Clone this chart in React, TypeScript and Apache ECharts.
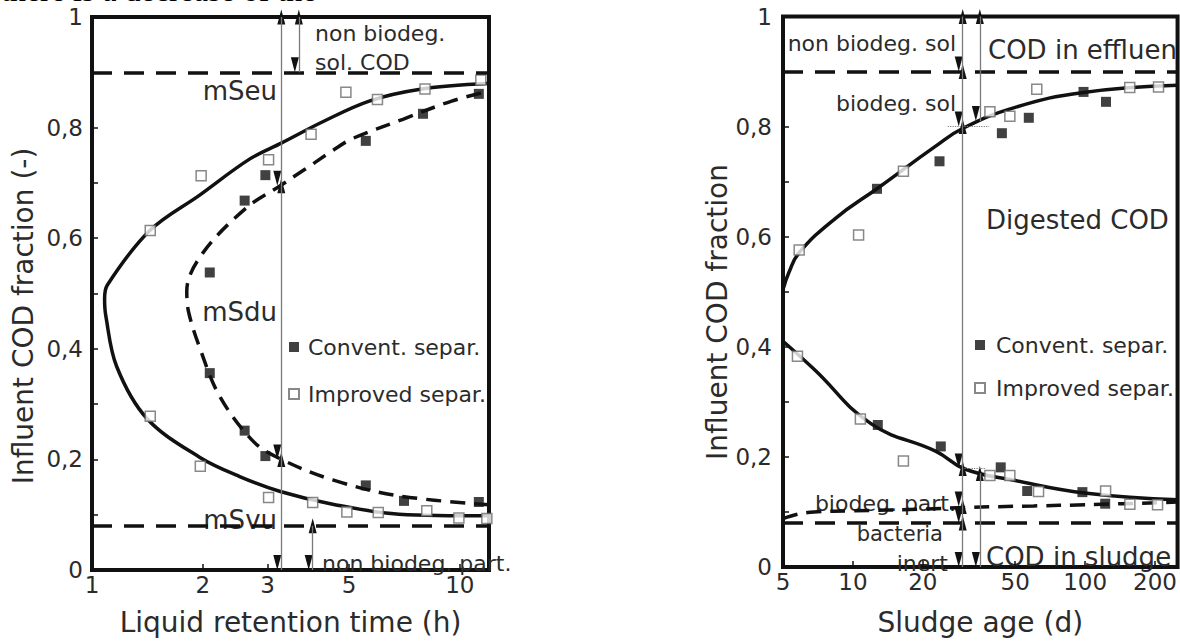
import React, { useEffect, useRef } from "react";
import * as echarts from "echarts";

const FONT = "DejaVu Sans";
const INK = "#111";
const TXT = "#2b2b2b";
const GREY_LINE = "#7a7a7a";

// ---------- Left panel: liquid retention time (h), log axis ----------
const lrtTicks = [1, 2, 3, 5, 10];
const lrtMin = 1;
const lrtMax = 12;

// solid model curve (C-shape, traced from lower right, round the nose, to upper right)
const leftSolidX = [12, 6.83, 4.51, 3.25, 2.52, 1.96, 1.41, 1.167, 1.09, 1.082, 1.1, 1.436, 1.962, 2.68, 3.27, 4.28, 5.67, 7.74, 12];
const leftSolidY = [0.098, 0.101, 0.119, 0.142, 0.169, 0.204, 0.274, 0.368, 0.46, 0.49, 0.515, 0.614, 0.678, 0.743, 0.772, 0.812, 0.848, 0.869, 0.88];

// dashed model curve (mSdu)
const leftDashX = [12, 6.83, 4.51, 3.25, 2.74, 2.22, 1.96, 1.83, 1.81, 2.0, 2.63, 3.25, 3.8, 4.5, 5.1, 7.0, 9.5, 12];
const leftDashY = [0.118, 0.134, 0.163, 0.201, 0.233, 0.315, 0.403, 0.467, 0.505, 0.573, 0.655, 0.695, 0.725, 0.758, 0.78, 0.815, 0.848, 0.866];

const leftConvX = [2.09, 2.6, 2.96, 5.55, 7.94, 11.26, 2.09, 2.6, 2.96, 5.55, 7.05, 11.26];
const leftConvY = [0.538, 0.668, 0.714, 0.776, 0.825, 0.861, 0.356, 0.252, 0.206, 0.153, 0.125, 0.123];
const leftImpX = [1.44, 1.98, 3.02, 3.94, 4.9, 5.97, 8.04, 11.4, 1.44, 1.97, 3.02, 3.98, 4.93, 6.0, 8.13, 9.94, 11.84];
const leftImpY = [0.614, 0.713, 0.742, 0.788, 0.864, 0.851, 0.87, 0.886, 0.278, 0.1875, 0.131, 0.122, 0.105, 0.104, 0.107, 0.094, 0.093];

const leftLevels = [0.9, 0.08]; // non biodeg. sol. / non biodeg. part.
const leftMainArrowX = 3.27;
const leftMainArrowStops = [1, 0.695, 0.2, 0];
const leftTopArrowX = 3.65;
const leftTopArrow = [1, 0.9];
const leftBottomArrowX = 3.98;
const leftBottomArrow = [0.08, 0];

// ---------- Right panel: sludge age (d), log axis ----------
const sludgeTicks = [5, 10, 20, 50, 100, 200];
const sludgeMin = 5;
const sludgeMax = 250;

const rightUpperX = [5, 5.3, 5.87, 8.39, 12.87, 22.8, 29.8, 50, 98.4, 250];
const rightUpperY = [0.504, 0.535, 0.571, 0.633, 0.689, 0.765, 0.797, 0.835, 0.862, 0.875];
const rightLowerX = [5, 6.77, 12, 22.8, 30.3, 50, 101.7, 250];
const rightLowerY = [0.41, 0.36, 0.26, 0.21, 0.178, 0.157, 0.134, 0.122];
const rightBactX = [5, 5.8, 6.8, 10, 20, 30, 60, 100, 250];
const rightBactY = [0.088, 0.096, 0.1, 0.102, 0.105, 0.108, 0.111, 0.113, 0.118];

const rightConvX = [12.7, 23.6, 43.8, 57.2, 98.4, 123, 12.8, 23.9, 43.3, 56.3, 97.3, 122];
const rightConvY = [0.687, 0.737, 0.788, 0.816, 0.863, 0.845, 0.258, 0.219, 0.181, 0.138, 0.136, 0.115];
const rightImpX = [5.87, 10.58, 16.5, 38.9, 47.4, 61.9, 155.6, 207, 5.77, 10.77, 16.5, 38.9, 47.4, 63, 122.5, 155.8, 205];
const rightImpY = [0.576, 0.603, 0.719, 0.827, 0.819, 0.868, 0.871, 0.872, 0.383, 0.269, 0.1925, 0.166, 0.166, 0.137, 0.138, 0.114, 0.113];

const rightLevels = [0.9, 0.08];
const rightArrowX1 = 29.7;
const rightArrowStops1 = [1, 0.9, 0.8, 0.179, 0.11, 0.08, 0];
const rightArrowX2 = 35.2;
const rightArrowSegs2 = [[1, 0.81], [0.17, 0]];
const rightDotted = [
  { x1: 25.6, x2: 38.6, y: 0.8 },
  { x1: 29.5, x2: 37.3, y: 0.179 },
];

const legendNames = ["Convent. separ.", "Improved separ."];

// ---------- helpers ----------
const L = (v: number) => Math.log10(v);
const pts = (xs: number[], ys: number[]) => xs.map((x, i) => [L(x), ys[i]]);

const fracFormatter = (v: number) => {
  const k = Math.round(v * 10);
  if (k % 2 !== 0) return "";
  if (k === 0) return "0";
  if (k === 10) return "1";
  return "0," + k;
};

const seg = (x: number, y1: number, y2: number) => [
  { coord: [L(x), y1] },
  { coord: [L(x), y2] },
];

const chain = (x: number, stops: number[]) => {
  const out: any[] = [];
  for (let i = 0; i < stops.length - 1; i++) out.push(seg(x, stops[i], stops[i + 1]));
  return out;
};

// black arrow heads only (line itself invisible)
const arrowHeads = (data: any[]) => ({
  silent: true,
  animation: false,
  symbol: ["triangle", "triangle"],
  symbolSize: [8, 15],
  symbolOffset: [0, "50%"],
  label: { show: false },
  emphasis: { disabled: true },
  lineStyle: { color: INK, width: 0, type: "solid" },
  data,
});

// thin grey guide lines
const guideLines = (data: any[], dotted: any[] = []) => ({
  silent: true,
  animation: false,
  symbol: ["none", "none"],
  label: { show: false },
  emphasis: { disabled: true },
  lineStyle: { color: GREY_LINE, width: 1.3, type: "solid" },
  data: [
    ...data,
    ...dotted.map((d) => [
      { coord: [L(d.x1), d.y], lineStyle: { type: "dotted", width: 1.2, color: GREY_LINE } },
      { coord: [L(d.x2), d.y] },
    ]),
  ],
});

const levelMarkLine = (levels: number[]) => ({
  silent: true,
  animation: false,
  symbol: ["none", "none"],
  label: { show: false },
  emphasis: { disabled: true },
  lineStyle: { color: INK, width: 3.5, type: [20, 12] },
  data: levels.map((v) => ({ yAxis: v })),
});

const txt = (text: string, x: number, y: number, size: number, align = "left") => ({
  type: "text",
  x,
  y,
  silent: true,
  style: {
    text,
    fontSize: size,
    fontFamily: FONT,
    fill: TXT,
    align,
    textAlign: align,
    verticalAlign: "middle",
    textVerticalAlign: "middle",
  },
});

const xAxisBase = (gridIndex: number, ticks: number[], min: number, max: number, name: string, nameGap: number) => ({
  type: "value",
  gridIndex,
  min: L(min),
  max: L(max),
  axisLine: { show: false },
  splitLine: { show: false },
  axisTick: {
    show: true,
    inside: true,
    length: 6,
    customValues: ticks.map(L),
    lineStyle: { color: INK, width: 1.5 },
  },
  axisLabel: {
    customValues: ticks.map(L),
    formatter: (v: number) => String(Math.round(Math.pow(10, v))),
    fontSize: 23,
    fontFamily: FONT,
    color: TXT,
    margin: 3,
  },
  name,
  nameLocation: "middle",
  nameGap,
  nameTextStyle: { fontSize: 28, fontFamily: FONT, color: TXT },
});

const yAxisBase = (gridIndex: number, margin: number) => ({
  type: "value",
  gridIndex,
  min: 0,
  max: 1,
  interval: 0.1,
  axisLine: { show: false },
  splitLine: { show: false },
  axisTick: { show: true, inside: true, length: 6, lineStyle: { color: INK, width: 1.5 } },
  axisLabel: { formatter: fracFormatter, fontSize: 23, fontFamily: FONT, color: TXT, margin },
});

const curve = (name: string, data: number[][], xi: number, dashed: boolean, extra: any = {}) => ({
  name,
  type: "line",
  xAxisIndex: xi,
  yAxisIndex: xi,
  data,
  showSymbol: false,
  symbol: "none",
  smooth: 0.35,
  silent: true,
  lineStyle: { color: INK, width: 3.5, type: dashed ? [15, 9] : "solid" },
  z: 3,
  ...extra,
});

const scat = (name: string, data: number[][], xi: number, filled: boolean, extra: any = {}) => ({
  name,
  type: "scatter",
  xAxisIndex: xi,
  yAxisIndex: xi,
  data,
  symbol: "rect",
  symbolSize: 10,
  silent: true,
  itemStyle: filled
    ? { color: INK }
    : { color: "#ffffff", borderColor: "#6a6a6a", borderWidth: 1.5 },
  z: 4,
  ...extra,
});

export default function App() {
  const ref = useRef<HTMLDivElement>(null);

  useEffect(() => {
    if (!ref.current) return;
    const chart = echarts.init(ref.current, undefined, { renderer: "svg" });

    const option: any = {
      animation: false,
      textStyle: { fontFamily: FONT },
      grid: [
        { left: 92, top: 17, width: 397, height: 570, show: true, borderColor: INK, borderWidth: 4, containLabel: false },
        { left: 783, top: 16.5, width: 395, height: 568, show: true, borderColor: INK, borderWidth: 4, containLabel: false },
      ],
      xAxis: [
        xAxisBase(0, lrtTicks, lrtMin, lrtMax, "Liquid retention time (h)", 38),
        xAxisBase(1, sludgeTicks, sludgeMin, sludgeMax, "Sludge age (d)", 41),
      ],
      yAxis: [yAxisBase(0, 9), yAxisBase(1, 11)],
      legend: [
        {
          data: legendNames,
          orient: "vertical",
          left: 288,
          top: 336,
          padding: 0,
          itemWidth: 10,
          itemHeight: 10,
          itemGap: 25,
          selectedMode: false,
          textStyle: { fontSize: 22, lineHeight: 22, fontFamily: FONT, color: TXT, padding: [0, 0, 0, 4] },
        },
        {
          data: legendNames,
          orient: "vertical",
          left: 974,
          top: 334,
          padding: 0,
          itemWidth: 10,
          itemHeight: 10,
          itemGap: 21,
          selectedMode: false,
          textStyle: { fontSize: 22, lineHeight: 22, fontFamily: FONT, color: TXT, padding: [0, 0, 0, 6] },
        },
      ],
      series: [
        // left panel
        curve("mS solid", pts(leftSolidX, leftSolidY), 0, false, {
          markLine: arrowHeads([
            ...chain(leftMainArrowX, leftMainArrowStops),
            seg(leftTopArrowX, leftTopArrow[0], leftTopArrow[1]),
            seg(leftBottomArrowX, leftBottomArrow[0], leftBottomArrow[1]),
          ]),
        }),
        curve("mSdu dashed", pts(leftDashX, leftDashY), 0, true, {
          markLine: levelMarkLine(leftLevels),
        }),
        scat(legendNames[0], pts(leftConvX, leftConvY), 0, true, {
          markLine: guideLines([
            seg(leftMainArrowX, 1, 0),
            seg(leftTopArrowX, leftTopArrow[0], leftTopArrow[1]),
            seg(leftBottomArrowX, leftBottomArrow[0], leftBottomArrow[1]),
          ]),
        }),
        scat(legendNames[1], pts(leftImpX, leftImpY), 0, false),
        // right panel
        curve("upper solid", pts(rightUpperX, rightUpperY), 1, false, {
          smooth: 0.45,
          markLine: arrowHeads([
            ...chain(rightArrowX1, rightArrowStops1),
            ...rightArrowSegs2.map((s) => seg(rightArrowX2, s[0], s[1])),
          ]),
        }),
        curve("lower solid", pts(rightLowerX, rightLowerY), 1, false, { smooth: 0.45 }),
        curve("bacteria dashed", pts(rightBactX, rightBactY), 1, true, {
          markLine: levelMarkLine(rightLevels),
        }),
        scat(legendNames[0], pts(rightConvX, rightConvY), 1, true, {
          markLine: guideLines(
            [seg(rightArrowX1, 1, 0), ...rightArrowSegs2.map((s) => seg(rightArrowX2, s[0], s[1]))],
            rightDotted
          ),
        }),
        scat(legendNames[1], pts(rightImpX, rightImpY), 1, false),
      ],
      graphic: [
        {
          type: "text",
          x: 1,
          y: -10,
          silent: true,
          style: {
            text: "there is a decrease of the",
            fontSize: 32,
            fontFamily: "Liberation Serif",
            fill: "#000",
            align: "left",
            textAlign: "left",
            verticalAlign: "middle",
            textVerticalAlign: "middle",
          },
        },
        {
          type: "text",
          x: 23,
          y: 316,
          rotation: Math.PI / 2,
          silent: true,
          style: {
            text: "Influent COD fraction (-)",
            fontSize: 28,
            fontFamily: FONT,
            fill: TXT,
            align: "center",
            textAlign: "center",
            verticalAlign: "middle",
            textVerticalAlign: "middle",
          },
        },
        {
          type: "text",
          x: 717,
          y: 312,
          rotation: Math.PI / 2,
          silent: true,
          style: {
            text: "Influent COD fraction",
            fontSize: 28,
            fontFamily: FONT,
            fill: TXT,
            align: "center",
            textAlign: "center",
            verticalAlign: "middle",
            textVerticalAlign: "middle",
          },
        },
        // left annotations
        txt("non biodeg.", 315, 33, 22),
        txt("sol. COD", 315, 62, 22),
        txt("mSeu", 277, 91, 26, "right"),
        txt("mSdu", 277, 312, 26, "right"),
        txt("mSvu", 277, 520, 26, "right"),
        txt("non biodeg. part.", 322, 563, 22),
        // right annotations
        txt("non biodeg. sol", 956, 43, 22, "right"),
        txt("COD in effluen", 988, 50, 26),
        txt("biodeg. sol", 956, 103, 22, "right"),
        txt("Digested COD", 986, 220, 26),
        txt("biodeg. part.", 956, 503, 22, "right"),
        txt("bacteria", 943, 534, 21, "right"),
        txt("inert", 948, 563, 22, "right"),
        txt("COD in sludge", 986, 557, 26),
      ],
    };

    chart.setOption(option);
    return () => chart.dispose();
  }, []);

  return (
    <div
      ref={ref}
      style={{ position: "absolute", left: 0, top: 0, width: 1180, height: 641, background: "#fff" }}
    />
  );
}
